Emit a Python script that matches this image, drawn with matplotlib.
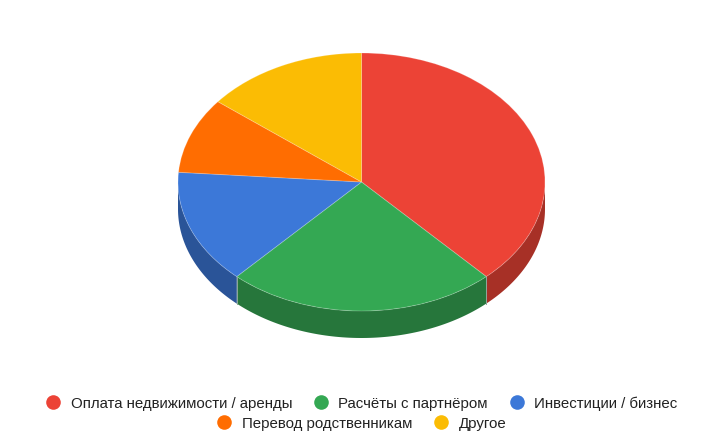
import numpy as np
import matplotlib
matplotlib.use("Agg")
import matplotlib.pyplot as plt
from matplotlib.lines import Line2D

labels = ["Оплата недвижимости / аренды", "Расчёты с партнёром", "Инвестиции / бизнес",
          "Перевод родственникам", "Другое"]
values = [38.1, 23.8, 14.3, 9.5, 14.3]
colors = ["#EC4336", "#34A853", "#3C78D8", "#FF6D01", "#FBBC04"]
side_colors = ["#A73026", "#26763B", "#2A5498", "#B24D01", "#B08403"]

W, H = 726, 444
CX, CY, RX, RY, DEPTH = 361.5, 182, 183.5, 129, 27

plt.rcParams["font.family"] = ["Liberation Sans", "DejaVu Sans"]
fig = plt.figure(figsize=(W / 100, H / 100), dpi=100)
bottom = CY + RY + DEPTH + 1
ax = fig.add_axes([(CX - RX) / W, 1 - bottom / H, 2 * RX / W, (bottom - CY + RY) / H])

# side wall first, then the top on it
depth = DEPTH / RY
fracs = np.cumsum([0] + values) / sum(values) * 2 * np.pi
for i in range(len(values)):
    lo = max(fracs[i], np.pi / 2)
    hi = min(fracs[i + 1], 3 * np.pi / 2)
    if hi <= lo:
        continue
    t = np.linspace(lo, hi, 80)
    xs = np.r_[np.sin(t), np.sin(t[::-1])]
    ys = np.r_[np.cos(t), np.cos(t[::-1]) - depth]
    ax.fill(xs, ys, color=side_colors[i], lw=0)
    for a in (lo, hi):
        if np.pi / 2 < a < 3 * np.pi / 2:
            ax.plot([np.sin(a)] * 2, [np.cos(a), np.cos(a) - depth], color="#8FA89A", lw=0.6)

ax.pie(values, colors=colors, startangle=90, counterclock=False, radius=1,
       wedgeprops={"edgecolor": (1, 1, 1, 0.2), "linewidth": 0.7})
ax.set_aspect("auto")
ax.set_xlim(-1, 1)
ax.set_ylim(-1 - (DEPTH + 1) / RY, 1)
ax.axis("off")
for p in ax.patches:
    p.set_clip_on(False)


def legend_row(idx, y):
    handles = [Line2D([], [], ls="", marker="o", ms=10.5, mfc=colors[i], mec="none") for i in idx]
    return fig.legend(handles, [labels[i] for i in idx], ncol=len(idx), loc="center",
                      bbox_to_anchor=(360 / W, 1 - y / H), frameon=False, fontsize=10.85,
                      labelcolor="#222222", handletextpad=0.47, columnspacing=1.2,
                      handlelength=1.4, borderpad=0, borderaxespad=0)


legend_row([0, 1, 2], 403.5)
legend_row([3, 4], 423.5)

fig.savefig("out.png", dpi=100)
